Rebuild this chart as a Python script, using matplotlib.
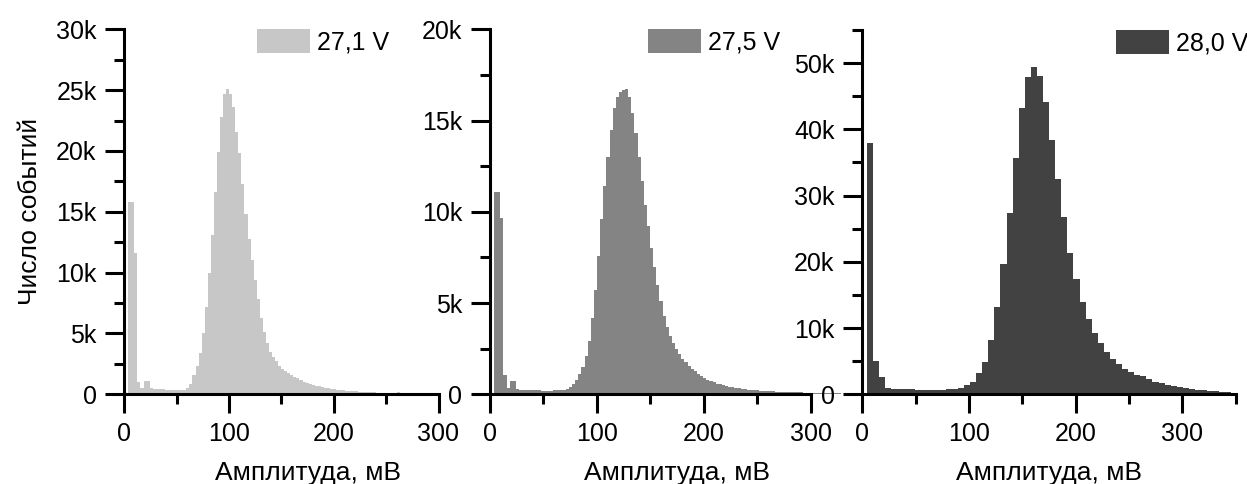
import numpy as np
import matplotlib
matplotlib.use("Agg")
import matplotlib.pyplot as plt
from matplotlib.ticker import MultipleLocator, FuncFormatter

plt.rcParams['font.family'] = ['Liberation Sans', 'DejaVu Sans']

# Pulse-height spectra at three bias voltages (counts in thousands per bin)
voltages = ["27,1 V", "27,5 V", "28,0 V"]

bin_start_mv = [3.76, 3.76, 4.2]
bin_width_mv = [2.92, 2.92, 5.7]

counts_271 = [
    15.8, 15.8, 11.6, 1.0, 0.5, 1.1, 1.1, 0.5, 0.47, 0.44,
    0.42, 0.4, 0.38, 0.37, 0.36, 0.35, 0.35, 0.35, 0.36, 0.49,
    0.85, 1.59, 2.33, 3.42, 5.01, 7.2, 9.94, 13.09, 16.65, 19.94,
    22.8, 24.7, 25.06, 24.7, 23.6, 21.6, 19.8, 17.3, 14.8, 12.8,
    11.0, 9.4, 7.8, 6.3, 5.1, 4.2, 3.5, 3.1, 2.7, 2.35,
    2.05, 1.9, 1.75, 1.6, 1.45, 1.3, 1.15, 1.05, 0.95, 0.85,
    0.75, 0.7, 0.65, 0.58, 0.53, 0.49, 0.45, 0.42, 0.39, 0.36,
    0.33, 0.31, 0.29, 0.27, 0.25, 0.23, 0.21, 0.2, 0.18, 0.17,
    0.15, 0.14, 0.13, 0.12, 0.11, 0.1, 0.09, 0.09, 0.2, 0.08,
    0.08, 0.07, 0.07, 0.07, 0.07, 0.07, 0.06, 0.06, 0.06, 0.06,
    0.06, 0.06, 0.05, 0.05, 0.05, 0.05, 0.05, 0.05, 0.05, 0.05,
    0.04, 0.04, 0.04, 0.04, 0.04, 0.04, 0.04, 0.04,
]

counts_275 = [
    11.08, 11.08, 9.67, 1.06, 0.33, 0.75, 0.75, 0.27, 0.26, 0.25,
    0.25, 0.24, 0.23, 0.22, 0.21, 0.2, 0.2, 0.2, 0.2, 0.21,
    0.22, 0.24, 0.26, 0.3, 0.38, 0.55, 0.8, 1.1, 1.5, 2.1,
    2.9, 4.2, 5.7, 7.6, 9.6, 11.4, 13.0, 14.5, 15.7, 16.3,
    16.55, 16.7, 16.75, 16.3, 15.4, 14.3, 13.0, 11.7, 10.4, 9.2,
    8.0, 7.0, 6.0, 5.1, 4.3, 3.7, 3.2, 2.8, 2.5, 2.2,
    1.95, 1.75, 1.55, 1.4, 1.25, 1.12, 1.0, 0.9, 0.8, 0.72,
    0.65, 0.59, 0.54, 0.5, 0.46, 0.42, 0.39, 0.36, 0.33, 0.3,
    0.28, 0.26, 0.24, 0.22, 0.21, 0.2, 0.19, 0.18, 0.17, 0.16,
    0.15, 0.14, 0.13, 0.12, 0.11, 0.11, 0.1, 0.1, 0.1, 0.09,
    0.08, 0.07, 0.06, 0.06, 0.06, 0.05, 0.05, 0.05, 0.05, 0.05,
    0.05, 0.04, 0.04, 0.04, 0.04, 0.04, 0.04, 0.04,
]

counts_280 = [
    38.0, 5.1, 2.6, 0.9, 0.85, 0.85, 0.8, 0.75, 0.7, 0.7,
    0.65, 0.65, 0.7, 0.75, 0.8, 0.95, 1.4, 1.9, 3.2, 4.9,
    8.2, 13.2, 19.7, 27.4, 35.6, 43.2, 47.9, 49.4, 48.0, 44.2,
    38.4, 32.5, 26.8, 21.4, 17.4, 14.0, 11.3, 9.3, 7.7, 6.4,
    5.4, 4.5, 3.8, 3.3, 2.9, 2.7, 2.3, 1.9, 1.7, 1.45,
    1.25, 1.15, 0.95, 0.8, 0.7, 0.6, 0.55, 0.45, 0.4, 0.35,
]

series = [counts_271, counts_275, counts_280]
colors = ['#c7c7c7', '#848484', '#424242']
x_limits = [300, 300, 350]
y_limits = [30000, 20000, 55000]
y_steps = [5000, 5000, 10000]

W, H = 1247, 484
fig = plt.figure(figsize=(W / 100, H / 100), dpi=100)

# axes boxes in pixels: left, right, top, bottom
boxes = [
    (124.3, 438.5, 29.3, 394.3),
    (490.0, 810.7, 29.3, 394.3),
    (862.3, 1235.5, 30.0, 394.3),
]
legend_x = [0.4223, 0.4917, 0.6798]


def k_format(v, pos):
    if abs(v) < 1e-9:
        return "0"
    return f"{v / 1000:g}k"


FS = 18
LABEL_FS = 19
LW = 2.2
axes = []
for i in range(3):
    l, r, t, b = boxes[i]
    ax = fig.add_axes([l / W, 1 - b / H, (r - l) / W, (b - t) / H])
    ax.patch.set_alpha(0)
    axes.append(ax)

    vals = np.asarray(series[i]) * 1000.0
    edges = bin_start_mv[i] + bin_width_mv[i] * np.arange(len(vals) + 1)
    ax.stairs(vals, edges, fill=True, color=colors[i], linewidth=0,
              clip_on=(i == 2), label=voltages[i], zorder=1)

    ax.set_xlim(0, x_limits[i])
    ax.set_ylim(0, y_limits[i])
    for s in ('top', 'right'):
        ax.spines[s].set_visible(False)
    for s in ('left', 'bottom'):
        ax.spines[s].set_linewidth(LW)
        ax.spines[s].set_zorder(3)

    ax.xaxis.set_major_locator(MultipleLocator(100))
    ax.xaxis.set_minor_locator(MultipleLocator(50))
    ax.yaxis.set_major_locator(MultipleLocator(y_steps[i]))
    ax.yaxis.set_minor_locator(MultipleLocator(y_steps[i] / 2))
    ax.yaxis.set_major_formatter(FuncFormatter(k_format))
    ax.tick_params(which='major', direction='out', length=14, width=LW,
                   labelsize=FS, pad=6)
    ax.tick_params(which='minor', direction='out', length=7, width=LW)

    ax.set_xlabel("Амплитуда, мВ", fontsize=LABEL_FS)
    ax.xaxis.set_label_coords(175 / x_limits[i], -0.183)

    ax.legend(loc='upper left', bbox_to_anchor=(legend_x[i], 1.0),
              frameon=False, fontsize=FS, handlelength=2.12,
              handleheight=1.08, handletextpad=0.28, borderpad=0,
              borderaxespad=0)

axes[0].set_ylabel("Число событий", fontsize=LABEL_FS)
axes[0].yaxis.set_label_coords(-0.262, 0.5)

fig.savefig("out.png", dpi=100)
